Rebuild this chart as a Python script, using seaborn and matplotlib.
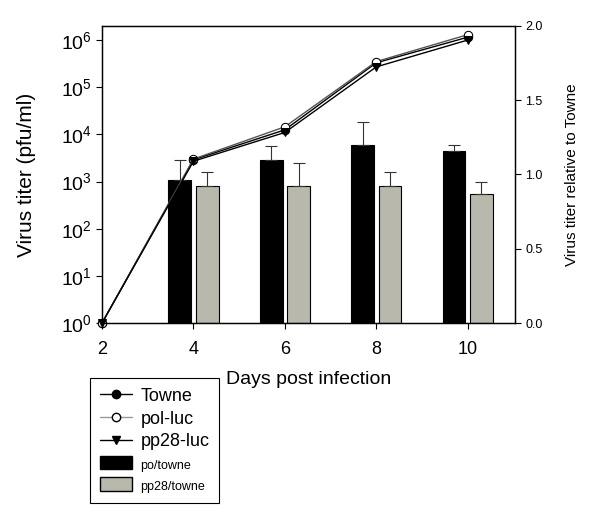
import numpy as np
import matplotlib
matplotlib.use("Agg")
import matplotlib.pyplot as plt
import seaborn as sns
from matplotlib.lines import Line2D
from matplotlib.patches import Patch

sns.set_theme(style="ticks")
plt.rcParams['font.family'] = ['Liberation Sans', 'DejaVu Sans']
plt.rcParams['mathtext.default'] = 'regular'
plt.rcParams['text.color'] = 'black'
plt.rcParams['axes.labelcolor'] = 'black'

# Titres (pfu/ml)
days = [2, 4, 6, 8, 10]
towne = [1, 2900, 12500, 330000, 1150000]
pol_luc = [1, 3000, 14500, 350000, 1300000]
pp28_luc = [1, 2700, 11000, 270000, 1000000]

# Relative titres (bars)
bar_days = [4, 6, 8, 10]
po_towne = [0.96, 1.10, 1.20, 1.16]
po_towne_err = [0.14, 0.09, 0.15, 0.04]
pp28_towne = [0.92, 0.92, 0.92, 0.87]
pp28_towne_err = [0.10, 0.16, 0.10, 0.08]

fig = plt.figure(figsize=(6, 5.08), dpi=100)
ax = fig.add_axes([0.17, 0.364, 0.688, 0.585])
ax2 = ax.twinx()

# Bars on right axis
bw = 0.5
xb = np.array(bar_days)
ax2.bar(xb - 0.3, po_towne, width=bw, color='black', edgecolor='black', linewidth=0.8)
ax2.bar(xb + 0.3, pp28_towne, width=bw, color='#b8b8ac', edgecolor='black', linewidth=0.8)
ax2.errorbar(xb - 0.3, po_towne, yerr=[np.zeros(4), po_towne_err], fmt='none',
             ecolor='#333333', elinewidth=0.8, capsize=4, capthick=0.8)
ax2.errorbar(xb + 0.3, pp28_towne, yerr=[np.zeros(4), pp28_towne_err], fmt='none',
             ecolor='#333333', elinewidth=0.8, capsize=4, capthick=0.8)
ax2.set_ylim(0, 2.0)
ax2.set_yticks([0.0, 0.5, 1.0, 1.5, 2.0])
ax2.set_yticklabels(['0.0', '0.5', '1.0', '1.5', '2.0'], fontsize=9)
ax2.set_ylabel('Virus titer relative to Towne', fontsize=11, labelpad=16)

# Lines on left axis
ax.set_zorder(ax2.get_zorder() + 1)
ax.patch.set_visible(False)
sns.lineplot(x=days, y=towne, ax=ax, color='black', marker='o', markersize=6,
             markerfacecolor='black', markeredgecolor='black', linewidth=1, clip_on=False)
sns.lineplot(x=days, y=pol_luc, ax=ax, color='#555555', marker='o', markersize=6,
             markerfacecolor='white', markeredgecolor='black', linewidth=1, clip_on=False)
sns.lineplot(x=days, y=pp28_luc, ax=ax, color='black', marker='v', markersize=6,
             markerfacecolor='black', markeredgecolor='black', linewidth=1, clip_on=False)
ax.set_yscale('log')
ax.set_ylim(1, 10 ** 6.3)
ax.set_xlim(2, 11.03)
ax.set_yticks([10 ** i for i in range(7)])
ax.set_yticklabels([f'$10^{{{i}}}$' for i in range(7)], fontsize=14)
ax.yaxis.set_minor_locator(matplotlib.ticker.NullLocator())
ax.set_xticks(days)
ax.set_xticklabels([str(d) for d in days], fontsize=13)
ax.set_xlabel('Days post infection', fontsize=14, labelpad=9)
ax.set_ylabel('Virus titer (pfu/ml)', fontsize=15, labelpad=18)

for a in (ax, ax2):
    for s in a.spines.values():
        s.set_color('black')
        s.set_linewidth(0.9)
    a.tick_params(direction='out', length=4, width=0.8, colors='black')
ax.tick_params(axis='x', pad=9)

handles = [
    Line2D([], [], color='black', marker='o', markerfacecolor='black', markersize=6, lw=1),
    Line2D([], [], color='#999999', marker='o', markerfacecolor='white',
           markeredgecolor='black', markersize=6, lw=1),
    Line2D([], [], color='black', marker='v', markerfacecolor='black', markersize=6, lw=1),
    Patch(facecolor='black', edgecolor='black'),
    Patch(facecolor='#b8b8ac', edgecolor='black'),
]
labels = ['Towne', 'pol-luc', 'pp28-luc', 'po/towne', 'pp28/towne']
leg = fig.legend(handles, labels, loc='upper left', bbox_to_anchor=(0.15, 0.256),
                 fancybox=False, edgecolor='black', framealpha=1, handlelength=1.8,
                 handletextpad=0.45, labelspacing=0.3, borderpad=0.55, borderaxespad=0,
                 handleheight=0.8, fontsize=13)
leg.get_frame().set_linewidth(0.8)
for t in leg.get_texts()[3:]:
    t.set_fontsize(9)

fig.savefig('out.png', dpi=100)
